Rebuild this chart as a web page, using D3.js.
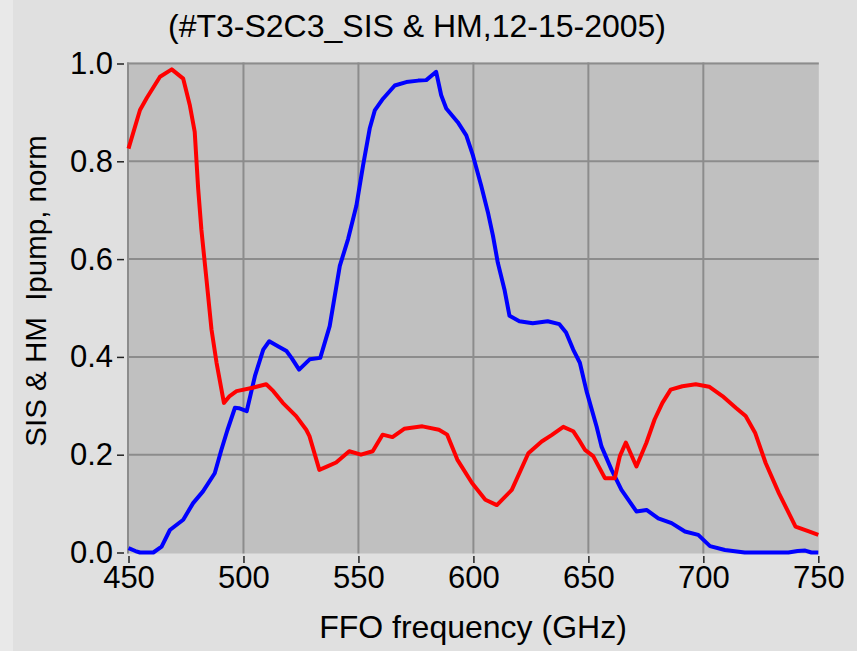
<!DOCTYPE html>
<html>
<head>
<meta charset="utf-8">
<script src="https://cdn.jsdelivr.net/npm/d3@7"></script>
<style>
  html, body { margin: 0; padding: 0; background: #e0e0e0; }
  svg { display: block; }
  text { font-family: "Liberation Sans", Arial, sans-serif; fill: #000; white-space: pre; }
</style>
</head>
<body>
<svg id="chart" width="857" height="651"></svg>
<script>
// FFO frequency (GHz) and normalised pump current, HM detector (red)
const hmFreq = [450, 455, 458, 463.7, 468.8, 473.8, 476.7, 478.8, 480.3, 481.7, 483.9, 486.1, 488.3, 491.5, 494, 497, 504, 509.9, 513, 517.1, 522.9, 527.3, 528.7, 533, 536, 540.3, 546, 551.1, 556.2, 560.5, 564.8, 569.9, 577.8, 585, 588.6, 593, 599.4, 605.2, 610.2, 616.7, 623.9, 629.7, 634, 639.1, 643.4, 645.8, 648.5, 652.1, 657.2, 661.5, 663.7, 666.3, 670.9, 675.2, 678.8, 682.2, 685.8, 690.9, 696.7, 702.5, 708.3, 714.1, 718.4, 722.5, 727.1, 732.9, 740.1, 745.9, 750];
const hmValue = [0.826, 0.905, 0.93, 0.973, 0.988, 0.969, 0.914, 0.86, 0.744, 0.66, 0.559, 0.456, 0.388, 0.306, 0.32, 0.33, 0.337, 0.344, 0.33, 0.306, 0.279, 0.251, 0.238, 0.169, 0.175, 0.184, 0.207, 0.2, 0.207, 0.241, 0.236, 0.253, 0.258, 0.251, 0.241, 0.19, 0.142, 0.108, 0.097, 0.128, 0.203, 0.227, 0.24, 0.257, 0.248, 0.231, 0.21, 0.197, 0.152, 0.152, 0.197, 0.225, 0.176, 0.224, 0.272, 0.306, 0.333, 0.34, 0.344, 0.339, 0.32, 0.296, 0.279, 0.245, 0.183, 0.121, 0.053, 0.043, 0.036];

// SIS pump current (blue)
const sisFreq = [450, 453, 455, 460.8, 464.4, 468, 473.8, 478.1, 482.4, 487.5, 490.4, 493, 496.3, 498, 501.4, 505, 508.6, 511.2, 515, 518.7, 520.9, 524.2, 528.8, 533.4, 537.5, 541.9, 545.5, 549.1, 552, 554.9, 557.1, 560.7, 565.8, 570.8, 576, 579.5, 583.8, 586, 588.2, 593.2, 596.9, 599.8, 603.4, 606.3, 608.5, 610.6, 613.5, 615.7, 620, 625.8, 632.3, 637.4, 640.3, 643.4, 646.3, 649.2, 653.6, 655.7, 660.1, 664.4, 670.9, 675.3, 680.4, 686.2, 692, 697.8, 702.9, 709.4, 718, 737, 741, 744.3, 747, 750];
const sisValue = [0.009, 0.003, 0, 0, 0.012, 0.046, 0.067, 0.101, 0.125, 0.162, 0.21, 0.25, 0.296, 0.295, 0.289, 0.361, 0.415, 0.432, 0.422, 0.412, 0.398, 0.374, 0.395, 0.398, 0.463, 0.586, 0.641, 0.709, 0.791, 0.867, 0.904, 0.928, 0.955, 0.962, 0.965, 0.966, 0.983, 0.935, 0.908, 0.88, 0.853, 0.812, 0.75, 0.696, 0.648, 0.593, 0.538, 0.484, 0.473, 0.469, 0.473, 0.467, 0.45, 0.415, 0.388, 0.33, 0.257, 0.217, 0.169, 0.128, 0.084, 0.087, 0.07, 0.06, 0.043, 0.036, 0.013, 0.005, 0, 0, 0.003, 0.004, 0, 0];

const xTicks = [450, 500, 550, 600, 650, 700, 750];
const yTicks = [0, 0.2, 0.4, 0.6, 0.8, 1.0];
const titleText = "(#T3-S2C3_SIS & HM,12-15-2005)";
const xLabel = "FFO frequency (GHz)";
const yLabel = "SIS & HM  Ipump, norm";

const svg = d3.select("#chart");

const x = d3.scaleLinear().domain([450, 750]).range([128.5, 818.3]);
const y = d3.scaleLinear().domain([0, 1]).range([552.5, 63.5]);

// faint strip along the left margin
svg.append("rect").attr("x", 0).attr("y", 0).attr("width", 13).attr("height", 651).attr("fill", "#e9e9e9");

// plot area
svg.append("rect")
  .attr("x", 127).attr("y", 62.5)
  .attr("width", 818.8 - 127).attr("height", 553.5 - 62.5)
  .attr("fill", "#c0c0c0");

// grid
const grid = svg.append("g").attr("stroke", "#8c8c8c").attr("stroke-width", 2);
grid.selectAll("line.h").data(yTicks.filter(d => d > 0)).join("line")
  .attr("x1", 127).attr("x2", 818.8)
  .attr("y1", d => y(d)).attr("y2", d => y(d));
grid.selectAll("line.v").data(xTicks.filter(d => d < 750)).join("line")
  .attr("y1", 62.5).attr("y2", 553.5)
  .attr("x1", d => d === 450 ? 128 : x(d)).attr("x2", d => d === 450 ? 128 : x(d));

// axes
const yAxis = svg.append("g")
  .attr("transform", "translate(124,0)")
  .call(d3.axisLeft(y).tickValues(yTicks).tickFormat(d3.format(".1f")).tickSize(7).tickPadding(4));
const xAxis = svg.append("g")
  .attr("transform", "translate(0,556)")
  .call(d3.axisBottom(x).tickValues(xTicks).tickFormat(d3.format("d")).tickSize(7).tickPadding(3));
[xAxis, yAxis].forEach(a => {
  a.select(".domain").remove();
  a.selectAll(".tick line").attr("stroke", "#222").attr("stroke-width", 1.5);
  a.selectAll(".tick text").attr("font-size", 31).attr("font-family", "'Liberation Sans', Arial, sans-serif").attr("fill", "#000");
});

// curves
const line = d3.line().x(d => x(d[0])).y(d => y(d[1]));
const curves = svg.append("g").attr("fill", "none").attr("stroke-width", 4).attr("stroke-linejoin", "round");
curves.append("path").datum(d3.zip(sisFreq, sisValue)).attr("stroke", "#0000ff").attr("d", line);
curves.append("path").datum(d3.zip(hmFreq, hmValue)).attr("stroke", "#ff0000").attr("d", line);

// titles
svg.append("text").attr("x", 417).attr("y", 37).attr("text-anchor", "middle").attr("font-size", 32).text(titleText);
svg.append("text").attr("x", 473).attr("y", 638).attr("text-anchor", "middle").attr("font-size", 32).text(xLabel);
svg.append("text").attr("transform", "translate(46,291) rotate(-90)").attr("text-anchor", "middle").attr("font-size", 29.5).text(yLabel);
</script>
</body>
</html>
